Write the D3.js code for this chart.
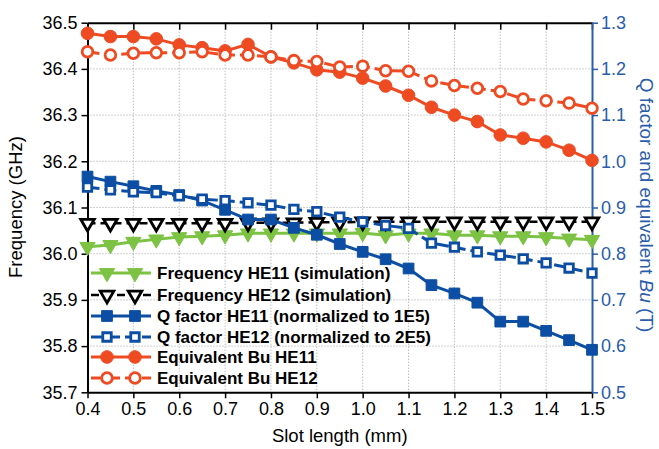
<!DOCTYPE html>
<html>
  <head>
    <meta charset="utf-8">
    <style>
      body { margin: 0; background: #fff; }
      svg { font-family: "Liberation Sans", Arial, sans-serif; }
    </style>
  </head>
  <body>
    <script src="https://cdn.jsdelivr.net/npm/d3@7/dist/d3.min.js"></script>
    <script>
    // slot length (mm)
    var slot = [0.4, 0.45, 0.5, 0.55, 0.6, 0.65, 0.7, 0.75, 0.8, 0.85, 0.9, 0.95,
                1.0, 1.05, 1.1, 1.15, 1.2, 1.25, 1.3, 1.35, 1.4, 1.45, 1.5];

    // left axis (GHz)
    var freqHE11 = [36.015, 36.019, 36.026, 36.031, 36.036, 36.038, 36.040, 36.044, 36.044, 36.044, 36.044, 36.044,
                    36.045, 36.040, 36.044, 36.044, 36.040, 36.040, 36.038, 36.038, 36.036, 36.033, 36.030];
    var freqHE12 = [36.066, 36.066, 36.066, 36.066, 36.066, 36.066, 36.066, 36.067, 36.067, 36.067, 36.068, 36.068,
                    36.069, 36.069, 36.069, 36.069, 36.069, 36.069, 36.069, 36.069, 36.069, 36.069, 36.069];

    // right axis
    var qHE11 = [0.967, 0.956, 0.946, 0.936, 0.927, 0.915, 0.895, 0.874, 0.874, 0.856, 0.841, 0.821,
                 0.804, 0.788, 0.768, 0.732, 0.714, 0.694, 0.653, 0.653, 0.633, 0.613, 0.592];
    var qHE12 = [0.944, 0.938, 0.934, 0.932, 0.925, 0.918, 0.915, 0.910, 0.905, 0.896, 0.891, 0.879,
                 0.869, 0.861, 0.855, 0.823, 0.814, 0.804, 0.797, 0.789, 0.780, 0.769, 0.758];
    var buHE11 = [1.277, 1.270, 1.270, 1.265, 1.252, 1.246, 1.239, 1.253, 1.226, 1.213, 1.198, 1.193,
                  1.180, 1.163, 1.143, 1.117, 1.100, 1.086, 1.057, 1.050, 1.042, 1.024, 1.002];
    var buHE12 = [1.237, 1.230, 1.234, 1.235, 1.235, 1.237, 1.230, 1.230, 1.226, 1.218, 1.216, 1.204,
                  1.206, 1.196, 1.195, 1.174, 1.164, 1.158, 1.151, 1.135, 1.131, 1.126, 1.115];

    var xTicks = [0.4, 0.5, 0.6, 0.7, 0.8, 0.9, 1.0, 1.1, 1.2, 1.3, 1.4, 1.5];
    var yLeftTicks = [35.7, 35.8, 35.9, 36.0, 36.1, 36.2, 36.3, 36.4, 36.5];
    var yRightTicks = [0.5, 0.6, 0.7, 0.8, 0.9, 1.0, 1.1, 1.2, 1.3];

    var orange = "#ef4b23", blue = "#0c4ea3", green = "#7cc243", axisBlue = "#2a5caa";

    var width = 659, height = 449;
    var margin = { top: 22.7, right: 67, bottom: 56.7, left: 87.5 };

    var svg = d3.select("body").append("svg")
        .attr("width", width)
        .attr("height", height);

    var x = d3.scaleLinear().domain([0.4, 1.5]).range([margin.left, width - margin.right]);
    var yL = d3.scaleLinear().domain([35.7, 36.5]).range([height - margin.bottom, margin.top]);
    var yR = d3.scaleLinear().domain([0.5, 1.3]).range([height - margin.bottom, margin.top]);

    // grid
    var grid = svg.append("g").attr("stroke", "#a0a0a0").attr("stroke-width", 1).attr("stroke-dasharray", "1,2");
    grid.selectAll(".gx").data(xTicks.slice(1, -1)).enter().append("line")
        .attr("x1", function(d) { return x(d); }).attr("x2", function(d) { return x(d); })
        .attr("y1", yL.range()[1]).attr("y2", yL.range()[0]);
    grid.selectAll(".gy").data(yLeftTicks.slice(1, -1)).enter().append("line")
        .attr("y1", function(d) { return yL(d); }).attr("y2", function(d) { return yL(d); })
        .attr("x1", x.range()[0]).attr("x2", x.range()[1]);

    // axes
    function styleAxis(g, color, size) {
      g.selectAll("path").attr("stroke", color).attr("stroke-width", 2);
      g.selectAll("line").attr("stroke", color).attr("stroke-width", 1.5);
      g.selectAll("text").attr("fill", color).style("font-size", size + "px");
    }

    var gTop = svg.append("g").attr("transform", "translate(0," + margin.top + ")")
        .call(d3.axisBottom(x).tickValues(xTicks).tickSize(7).tickSizeOuter(0).tickFormat(""));
    styleAxis(gTop, "#000", 18);

    var gBottom = svg.append("g").attr("transform", "translate(0," + (height - margin.bottom) + ")")
        .call(d3.axisBottom(x).tickValues(xTicks).tickSize(6).tickSizeOuter(0).tickPadding(4).tickFormat(d3.format(".1f")));
    styleAxis(gBottom, "#000", 18);

    var gLeft = svg.append("g").attr("transform", "translate(" + margin.left + ",0)")
        .call(d3.axisLeft(yL).tickValues(yLeftTicks).tickSize(6).tickSizeOuter(0).tickPadding(4).tickFormat(d3.format(".1f")));
    styleAxis(gLeft, "#000", 18);

    var gRight = svg.append("g").attr("transform", "translate(" + (width - margin.right) + ",0)")
        .call(d3.axisRight(yR).tickValues(yRightTicks).tickSize(6).tickSizeOuter(0).tickPadding(3).tickFormat(d3.format(".1f")));
    styleAxis(gRight, axisBlue, 18);

    // axis titles
    svg.append("text")
        .attr("transform", "translate(" + 22 + "," + 207 + ") rotate(-90)")
        .attr("text-anchor", "middle").style("font-size", "18.5px")
        .text("Frequency (GHz)");

    svg.append("text")
        .attr("x", (x.range()[0] + x.range()[1]) / 2).attr("y", 442)
        .attr("text-anchor", "middle").style("font-size", "18.5px")
        .text("Slot length (mm)");

    var rt = svg.append("text")
        .attr("transform", "translate(" + 640 + "," + 205 + ") rotate(90)")
        .attr("text-anchor", "middle").attr("fill", axisBlue).style("font-size", "19px");
    rt.append("tspan").text("Q factor and equivalent ");
    rt.append("tspan").style("font-style", "italic").text("Bu");
    rt.append("tspan").text(" (T)");

    // series
    var series = [
      { name: "Frequency HE11 (simulation)", values: freqHE11, y: yL, color: green, shape: "tri", open: false, dash: null },
      { name: "Frequency HE12 (simulation)", values: freqHE12, y: yL, color: "#000", shape: "tri", open: true, dash: "8,5" },
      { name: "Q factor HE11 (normalized to 1E5)", values: qHE11, y: yR, color: blue, shape: "sq", open: false, dash: null },
      { name: "Q factor HE12 (normalized to 2E5)", values: qHE12, y: yR, color: blue, shape: "sq", open: true, dash: "12,5" },
      { name: "Equivalent Bu HE11", values: buHE11, y: yR, color: orange, shape: "circ", open: false, dash: null },
      { name: "Equivalent Bu HE12", values: buHE12, y: yR, color: orange, shape: "circ", open: true, dash: "12,5" }
    ];

    function symbolPath(s) {
      if (s.shape === "tri") return d3.symbol().type(d3.symbolTriangle).size(s.open ? 80 : 100)();
      if (s.shape === "sq") return d3.symbol().type(d3.symbolSquare).size(s.open ? 72 : 115)();
      return d3.symbol().type(d3.symbolCircle).size(s.open ? 90 : 125)();
    }

    function drawMarker(g, s, cx, cy) {
      var rot = s.shape === "tri" ? " rotate(180)" : "";
      g.append("path")
          .attr("d", symbolPath(s))
          .attr("transform", "translate(" + cx + "," + cy + ")" + rot)
          .attr("fill", s.open ? "#fff" : s.color)
          .attr("stroke", s.color)
          .attr("stroke-width", s.open ? 2.8 : 1);
    }

    var line = d3.line();

    series.forEach(function(s) {
      var g = svg.append("g");
      var pts = slot.map(function(d, i) { return [x(d), s.y(s.values[i])]; });
      g.append("path")
          .attr("d", line(pts))
          .attr("fill", "none")
          .attr("stroke", s.color)
          .attr("stroke-width", s.shape === "tri" && s.open ? 2.5 : 3)
          .attr("stroke-dasharray", s.dash);
      pts.forEach(function(p) { drawMarker(g, s, p[0], p[1]); });
    });

    // legend
    var legendY = [273, 295, 316, 337, 357, 378];
    var legend = svg.append("g");
    series.forEach(function(s, i) {
      var g = legend.append("g");
      var ly = legendY[i];
      g.append("line")
          .attr("x1", 91).attr("x2", 151).attr("y1", ly).attr("y2", ly)
          .attr("stroke", s.color)
          .attr("stroke-width", s.shape === "tri" && s.open ? 2.5 : 3)
          .attr("stroke-dasharray", s.dash);
      drawMarker(g, s, 107, ly);
      drawMarker(g, s, 135, ly);
      g.append("text")
          .attr("x", 157).attr("y", ly).attr("dy", "0.35em")
          .style("font-size", "17px").style("font-weight", "bold")
          .text(s.name);
    });
    </script>
  </body>
</html>
